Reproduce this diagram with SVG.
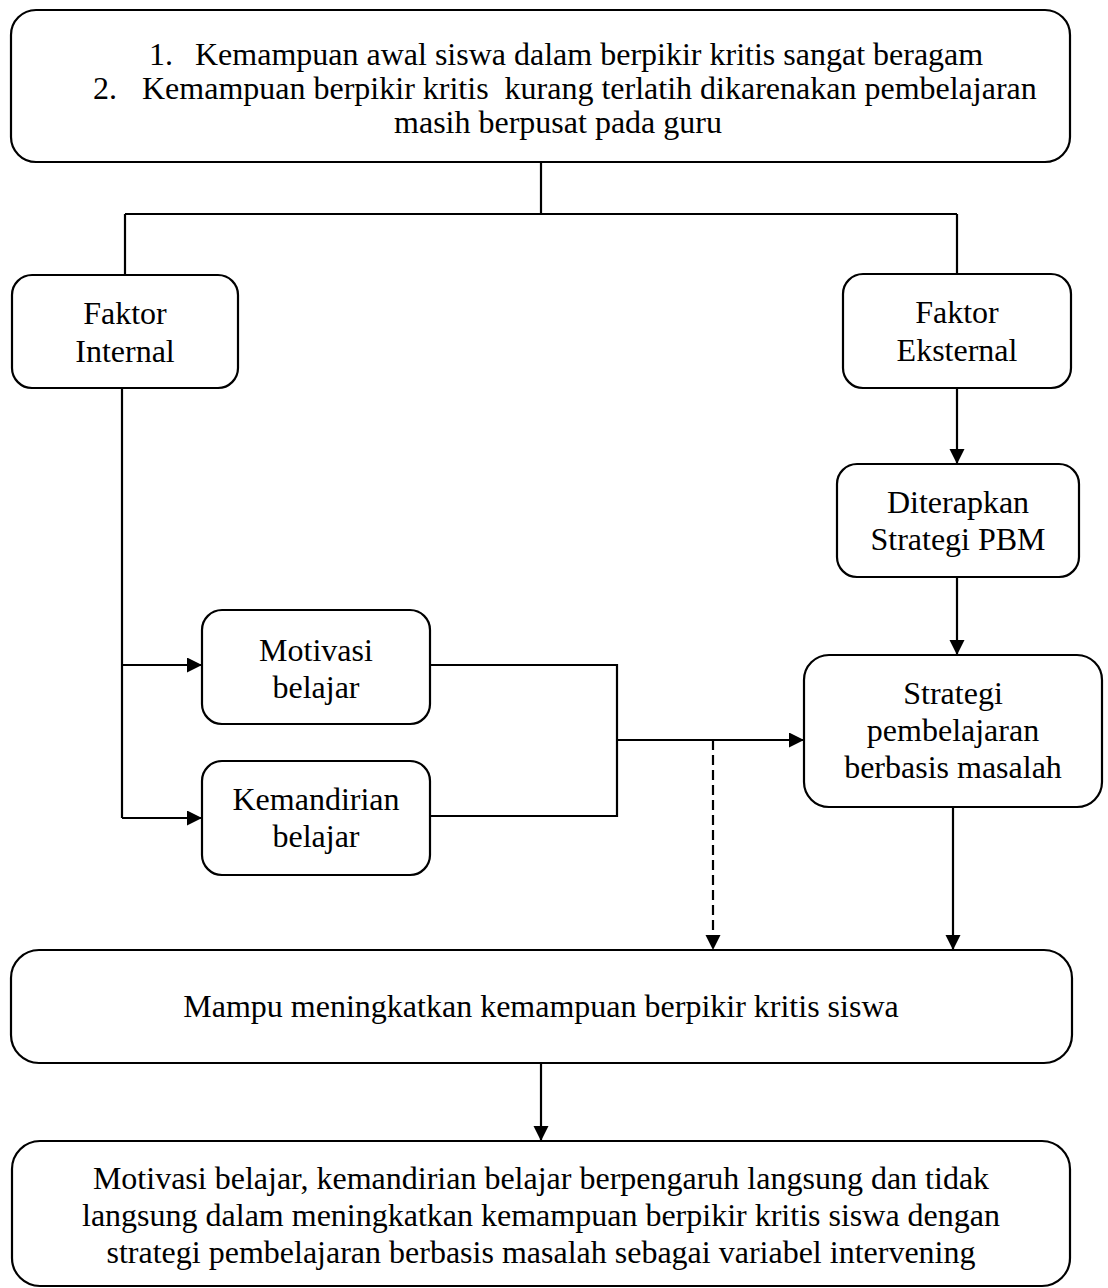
<svg xmlns="http://www.w3.org/2000/svg" width="1108" height="1288" viewBox="0 0 1108 1288">
<style>
.box{fill:#fff;stroke:#000;stroke-width:2.2}
.c{fill:none;stroke:#000;stroke-width:2.2}
.d{fill:none;stroke:#000;stroke-width:2.2;stroke-dasharray:10 5}
text{font-family:"Liberation Serif","Times New Roman",serif;font-size:32px;fill:#000}
.m{text-anchor:middle}
</style>
<defs>
<marker id="ah" markerUnits="userSpaceOnUse" markerWidth="16" markerHeight="16" refX="15" refY="7.5" orient="auto">
<path d="M0,0 L15,7.5 L0,15 z" fill="#000"/>
</marker>
</defs>
<g id="connectors">
<path class="c" d="M541,162 V214 M125,214 H957 M125,214 V275 M957,214 V274"/>
<path class="c" d="M957,388 V464" marker-end="url(#ah)"/>
<path class="c" d="M957,577 V655" marker-end="url(#ah)"/>
<path class="c" d="M122,388 V818"/>
<path class="c" d="M122,665 H202" marker-end="url(#ah)"/>
<path class="c" d="M122,818 H202" marker-end="url(#ah)"/>
<path class="c" d="M430,665 H617 V816 H430"/>
<path class="c" d="M617,740 H804" marker-end="url(#ah)"/>
<path class="d" d="M713,740 V950" marker-end="url(#ah)"/>
<path class="c" d="M953,807 V950" marker-end="url(#ah)"/>
<path class="c" d="M541,1063 V1141" marker-end="url(#ah)"/>
</g>
<g id="masalah">
<rect class="box" x="11" y="10" width="1059" height="152" rx="25"/>
<text x="149" y="65">1.</text>
<text x="195" y="65">Kemampuan awal siswa dalam berpikir kritis sangat beragam</text>
<text x="93" y="99">2.</text>
<text x="142" y="99" style="white-space:pre">Kemampuan berpikir kritis  kurang terlatih dikarenakan pembelajaran</text>
<text class="m" x="558" y="133">masih berpusat pada guru</text>
</g>
<g id="faktor-internal">
<rect class="box" x="12" y="275" width="226" height="113" rx="20"/>
<text class="m" x="125" y="324">Faktor</text>
<text class="m" x="125" y="362">Internal</text>
</g>
<g id="faktor-eksternal">
<rect class="box" x="843" y="274" width="228" height="114" rx="20"/>
<text class="m" x="957" y="323">Faktor</text>
<text class="m" x="957" y="361">Eksternal</text>
</g>
<g id="diterapkan">
<rect class="box" x="837" y="464" width="242" height="113" rx="20"/>
<text class="m" x="958" y="513">Diterapkan</text>
<text class="m" x="958" y="550">Strategi PBM</text>
</g>
<g id="strategi">
<rect class="box" x="804" y="655" width="298" height="152" rx="25"/>
<text class="m" x="953" y="704">Strategi</text>
<text class="m" x="953" y="741">pembelajaran</text>
<text class="m" x="953" y="778">berbasis masalah</text>
</g>
<g id="motivasi">
<rect class="box" x="202" y="610" width="228" height="114" rx="20"/>
<text class="m" x="316" y="661">Motivasi</text>
<text class="m" x="316" y="698">belajar</text>
</g>
<g id="kemandirian">
<rect class="box" x="202" y="761" width="228" height="114" rx="20"/>
<text class="m" x="316" y="810">Kemandirian</text>
<text class="m" x="316" y="847">belajar</text>
</g>
<g id="mampu">
<rect class="box" x="11" y="950" width="1061" height="113" rx="28"/>
<text class="m" x="541" y="1017">Mampu meningkatkan kemampuan berpikir kritis siswa</text>
</g>
<g id="kesimpulan">
<rect class="box" x="12" y="1141" width="1058" height="145" rx="28"/>
<text class="m" x="541" y="1189">Motivasi belajar, kemandirian belajar berpengaruh langsung dan tidak</text>
<text class="m" x="541" y="1226">langsung dalam meningkatkan kemampuan berpikir kritis siswa dengan</text>
<text class="m" x="541" y="1263">strategi pembelajaran berbasis masalah sebagai variabel intervening</text>
</g>
</svg>
